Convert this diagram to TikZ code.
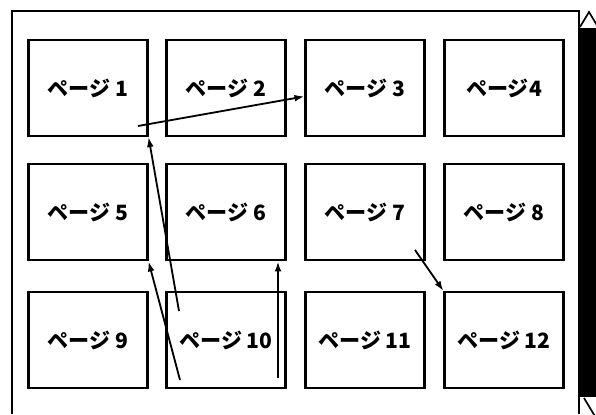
\documentclass[tikz,border=0pt]{standalone}
\usepackage{fontspec}
\newfontfamily\jpfont{Noto Sans CJK JP}
\usetikzlibrary{arrows.meta}
\tikzset{
    pgbox/.style={draw, line width=1.5pt, minimum width=2.975cm, minimum height=2.4cm,
                inner sep=0pt, font=\jpfont\bfseries\fontsize{15}{18}\selectfont},
    pgarr/.style={-{Latex[length=2.5mm, width=1.7mm]}, line width=1.3pt},
    pgframe/.style={line width=1.6pt},
}

\begin{document}
\begin{tikzpicture}
    \useasboundingbox (0,0) rectangle (14.9,10.35);
    \clip (0,0) rectangle (14.9,10.35);

    % window frame and scroll bar
    \draw[pgframe] (0.3,0) -- (0.3,10.075) -- (14.475,10.075) -- (14.475,0);
    \fill (14.5,0.425) rectangle (14.9,9.65);
    \draw[line width=1.2pt] (14.5,9.675) -- (14.725,10.05) -- (14.95,9.675);
    \draw[line width=1.2pt] (14.6,0.4) -- (14.9,-0.1) -- (15.2,0.4);

    % pages
    \node[pgbox] (p1) at (2.2, 8.15) {ページ 1};
    \node[pgbox] (p2) at (5.65, 8.15) {ページ 2};
    \node[pgbox] (p3) at (9.125, 8.15) {ページ 3};
    \node[pgbox] (p4) at (12.6, 8.15) {ページ4};

    \node[pgbox] (p5) at (2.2, 5.04) {ページ 5};
    \node[pgbox] (p6) at (5.65, 5.04) {ページ 6};
    \node[pgbox] (p7) at (9.125, 5.04) {ページ 7};
    \node[pgbox] (p8) at (12.6, 5.04) {ページ 8};

    \node[pgbox] (p9) at (2.2, 1.85) {ページ 9};
    \node[pgbox] (p10) at (5.65, 1.85) {ページ 10};
    \node[pgbox] (p11) at (9.125, 1.85) {ページ 11};
    \node[pgbox] (p12) at (12.6, 1.85) {ページ 12};

    % links
    \coordinate (s1) at (3.45, 7.2);
    \coordinate (s2) at (4.475, 2.575);
    \coordinate (s3) at (4.5, 0.85);
    \coordinate (s4) at (6.95, 0.9);
    \coordinate (s5) at (10.375, 4.1);

    \draw[pgarr] (s1) -- ([yshift=-6pt]p3.west);
    \draw[pgarr] (s2) -- (p1.south east);
    \draw[pgarr] (s3) -- (p5.south east);
    \draw[pgarr] (s4) -- (s4 |- p6.south);
    \draw[pgarr] (s5) -- (p12.north west);

\end{tikzpicture}
\end{document}
